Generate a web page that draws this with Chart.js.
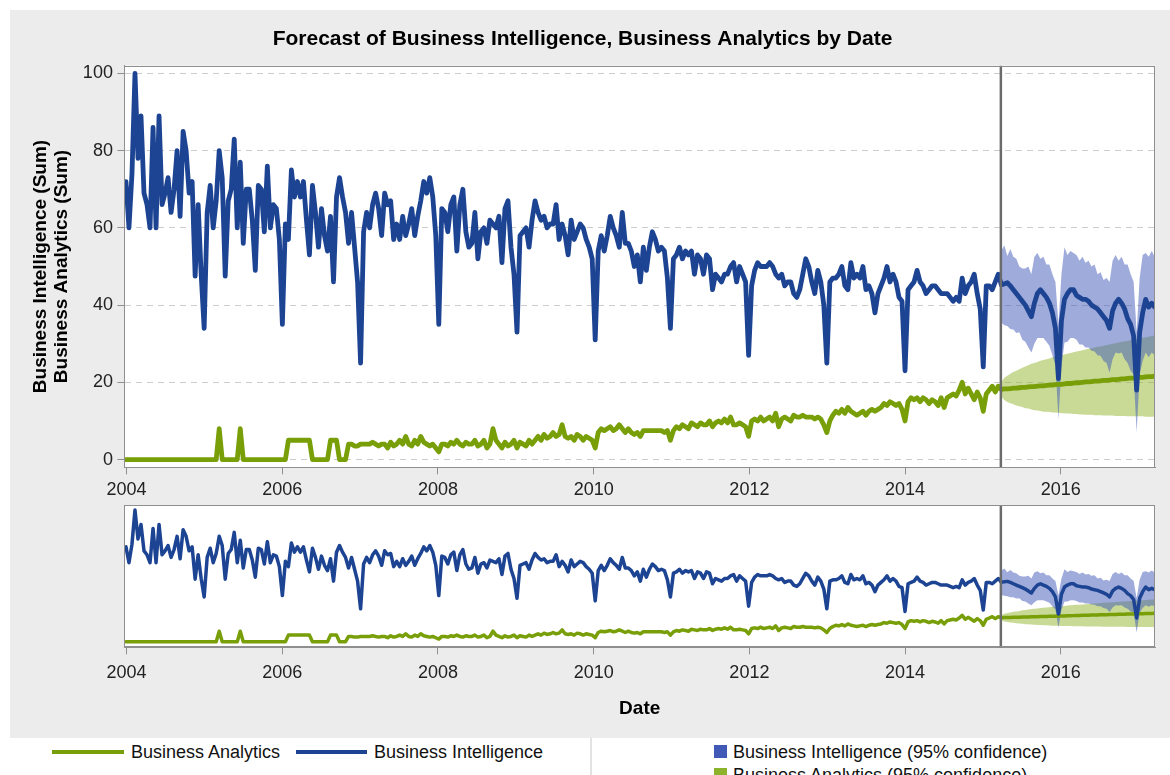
<!DOCTYPE html>
<html><head><meta charset="utf-8">
<script src="https://cdn.jsdelivr.net/npm/chart.js@4.4.1/dist/chart.umd.min.js"></script>
<style>
html,body{margin:0;padding:0;background:#fff;width:1170px;height:775px;overflow:hidden;font-family:"Liberation Sans",Arial,sans-serif;}
#panel{position:absolute;left:10px;top:10px;width:1160px;height:728px;background:#ececec;}
#w1{position:absolute;left:10px;top:10px;width:1160px;height:495px;}
#w2{position:absolute;left:10px;top:500px;width:1160px;height:238px;}
#legend{position:absolute;left:0;top:738px;width:1170px;height:37px;background:#fff;overflow:hidden;}
.ln{position:absolute;top:12px;height:4px;}
.lt{position:absolute;font-size:18px;line-height:20px;color:#111;white-space:nowrap;}
.sq{position:absolute;left:714px;width:13px;height:13px;}
.sep{position:absolute;left:590px;top:0;width:2px;height:37px;background:#e2e2e2;}
</style></head>
<body>
<div id="panel"></div>
<div id="w1"><canvas id="c1" width="1160" height="495"></canvas></div>
<div id="w2"><canvas id="c2" width="1160" height="238"></canvas></div>
<div id="legend">
  <div class="ln" id="lnBA" style="left:52px;width:72px;"></div>
  <div class="lt" id="ltBA" style="left:131px;top:4px;"></div>
  <div class="ln" id="lnBI" style="left:296px;width:71px;"></div>
  <div class="lt" id="ltBI" style="left:374px;top:4px;"></div>
  <div class="sep"></div>
  <div class="sq" id="sqBI" style="top:7px;"></div>
  <div class="lt" id="ltBIc" style="left:733px;top:4px;"></div>
  <div class="sq" id="sqBA" style="top:30px;"></div>
  <div class="lt" id="ltBAc" style="left:733px;top:27px;"></div>
</div>
<script>
// ---- series names / labels ----
const titleText = 'Forecast of Business Intelligence, Business Analytics by Date';
const yTitleLines = ['Business Intelligence (Sum)', 'Business Analytics (Sum)'];
const xTitleText = 'Date';
const nameBI = 'Business Intelligence';
const nameBA = 'Business Analytics';
const nameBIconf = 'Business Intelligence (95% confidence)';
const nameBAconf = 'Business Analytics (95% confidence)';

// ---- tick labels ----
const xTickYears = [2004, 2006, 2008, 2010, 2012, 2014, 2016];
const yTickValues = [0, 20, 40, 60, 80, 100];

// ---- date grid (approx. two-week samples, in decimal years) ----
const weekStart = 2003.992;
const weekStep = 0.038638;
const forecastStartIndex = 291;
const forecastStartYear = 2015.23;

// ---- history: Business Intelligence (i = 0..291) ----
const biHistory = [
72,60,74,100,78,89,69,66,60,86,
60,89,66,69,73,64,70,80,63,85,
80,69,72,47.5,66,48,34,64,71,60,
67,80,73,47.5,67,70,83,60,77,56,
70,70,62,49,71,70,59,76,60,66,
65,57,35,61,57,75,68,72,68,72,
62,53,71,64,55,65,58,54,63,46,
68,73,68,64,56,64,55,46,25,59,
64,60,66,69,65,58,69,66,67,57,
61,57,63,58,61,65,58,63,67,72,
69,73,68,58,35,65,64,59,66,68,
54,66,70,59,55,56,64,52,59,60,
56,62,61,60,63,51,65,67,55,48,
33,58,59,60,55,62,67,64,62,63,
60,61,61,66,57,61,58,53,62,57,
59,61,60,57,55,52,31,54,58,54,
58,63,60,58,55,64,56,56,54,50,
53,46,55,49,55,59,57,54,55,54,
47,34,52,53,55,52,54,53,54,48,
53,52,48,53,52,44,48,47,46,48,
48,50,51,46,50,48,46,27,45,49,
51,50,50,50,51,50,48,47,48,45,
46,46,43,42,44,48,52,50,46,43,
49,46,40,25,46,47,47,48,50,45,
44,51,47,48,47,50,44,45,43,38,
43,45,47,50,46,48,46,42,41,23,
44,45,46,49,46,45,43,44,45,45,
44,43,43,43,42,41,42,41,47,43,
45,46,48,43,39,24,45,45,44,46,
48,45.3];

// ---- history: Business Analytics (i = 0..291) ----
const baHistory = [
0,0,0,0,0,0,0,0,0,0,
0,0,0,0,0,0,0,0,0,0,
0,0,0,0,0,0,0,0,0,0,
0,8,0,0,0,0,0,0,8,0,
0,0,0,0,0,0,0,0,0,0,
0,0,0,0,5,5,5,5,5,5,
5,5,0,0,0,0,0,0,5,5,
5,0,0,0,4,4,3.5,3.5,4,4,
4,4,4.5,4,3.5,4,4,3,4.5,3.5,
4,5,4,6,4,3.5,5,4,6,4.5,
4,3.5,4,3,2,4,4,3.5,4.5,4,
5,4,3.5,4.5,4,4,5,3.5,4,5,
3,4,8,5,4,3,4.5,3.5,4,5,
3,4.5,4,3.5,5,4,5,6,5,6.5,
5.5,6,7,6,6.5,9,6,5.5,6,5,
6.5,6,5,6,5.5,5,3,7,8,7.5,
8,8.5,7.5,8,9,8,7,8,7,6.5,
7,6,7.5,7.5,7.5,7.5,7.5,7.5,7.5,7,
7.5,5,7.5,8.5,8,9,8.5,8,9.5,9,
8.5,9.5,9,9,10,8.5,9.5,10,9.5,10.5,
9.5,11,9,9,9.5,9,8.5,6,10,10.5,
10,11,10,10.5,11,10,12,8.5,10.5,11,
10.5,10,11.5,11,11,11.5,11,11,11,10.5,
11,10.5,9,7,10,11.5,12.5,12,13,12,
13.5,12.5,12,11.5,12,12.5,11.5,12.5,13,12.5,
13,13.5,14.5,14,15,14.5,14,14.5,13,10,
15,16,15.5,16,15,16,15.5,14.5,15.5,15,
14,16,13.5,16,16.5,17,16.5,18,20,17,
18.5,17,15.5,17.5,16,12.5,17,18,19,17.5,
19,18.2];

// ---- forecast (i = 291..342) ----
const biForecast = [45.3,45.5,45.8,45,44,43,42,41,40,38.5,37,40.5,43,44,43,42,40.5,38,34,21,36,41.5,43,44,44,42.5,42,41.5,41.5,41,40,39.5,39,38,37,36,34,38.5,40.5,41.5,40.5,39,36.5,35,32,18,33,38,41.5,39.5,40.5,39.5];
const biUpper = [54,55.5,52.7,54.5,52.5,52,50,49.5,49.5,50,48,52.5,53.5,52,52.5,50.5,50.5,48,46,35,48,55,53,54,53.5,53,51.5,52.5,51,51.5,50,50.5,48,48.5,46.5,47,46,51.5,53,51.5,52.5,50.5,50.5,48,46,33,47,53,53.5,52.5,54,52.5];
const biLower = [35.5,34.8,34.6,33.8,33.7,32.8,33,31,30.5,29,27.7,30,31.5,31.5,31.5,30.5,29.5,27,24.3,10.5,24,30.3,30.5,31.5,31.5,31,29.8,29.8,29,29,28.2,28,27,26.9,25.5,25,22.5,26,27.7,27.5,27.7,26,25,23,22,7,22,25.5,27.7,26.5,27.7,27];
const baForecast = [18.2,18.3,18.3,18.4,18.5,18.5,18.6,18.7,18.7,18.8,18.9,18.9,19.0,19.1,19.1,19.2,19.3,19.3,19.4,19.5,19.5,19.6,19.7,19.7,19.8,19.9,19.9,20.0,20.1,20.1,20.2,20.3,20.3,20.4,20.5,20.5,20.6,20.7,20.7,20.8,20.9,20.9,21.0,21.1,21.1,21.2,21.3,21.3,21.4,21.5,21.5,21.6];
const baUpper = [20.0,21.2,21.7,22.2,22.7,23.0,23.4,23.8,24.1,24.4,24.8,25.0,25.3,25.6,25.8,26.0,26.2,26.5,26.7,26.9,27.0,27.2,27.4,27.6,27.8,28.0,28.1,28.3,28.5,28.7,28.8,29.0,29.2,29.3,29.5,29.7,29.8,30.0,30.1,30.3,30.5,30.6,30.8,30.9,31.1,31.2,31.4,31.5,31.7,31.8,32.0,32.1];
const baLower = [16.4,15.4,14.9,14.6,14.3,14.0,13.8,13.6,13.3,13.2,13.0,12.8,12.7,12.6,12.4,12.4,12.3,12.2,12.2,12.1,12.0,12.0,11.9,11.9,11.8,11.8,11.7,11.7,11.6,11.6,11.6,11.5,11.5,11.5,11.4,11.4,11.4,11.4,11.3,11.3,11.3,11.3,11.2,11.2,11.2,11.2,11.2,11.2,11.1,11.1,11.1,11.1];

// ---- styling ----
const colBI = '#1d4493';
const colBA = '#789e08';
const colBIband = 'rgba(64,88,184,0.5)';
const colBAband = 'rgba(145,181,45,0.5)';
const FONT = "'Liberation Sans', Arial, sans-serif";
const xMin = 2003.972, xMax = 2017.21;

document.getElementById('lnBA').style.background = colBA;
document.getElementById('lnBI').style.background = colBI;
document.getElementById('sqBI').style.background = '#4159b6';
document.getElementById('sqBA').style.background = '#8db22b';
document.getElementById('ltBA').textContent = nameBA;
document.getElementById('ltBI').textContent = nameBI;
document.getElementById('ltBIc').textContent = nameBIconf;
document.getElementById('ltBAc').textContent = nameBAconf;

const toPts = (vals, i0) => vals.map((v, k) => ({x: weekStart + (i0 + k) * weekStep, y: v}));

function datasets(lw) {
  const line = (label, data, color, order) => ({label, data, borderColor: color, borderWidth: lw, pointRadius: 0, fill: false, tension: 0, borderJoinStyle: 'round', borderCapStyle: 'round', order});
  const band = (label, data, color, fill, order) => ({label, data, borderWidth: 0, borderColor: 'rgba(0,0,0,0)', backgroundColor: color, pointRadius: 0, fill, tension: 0, order});
  return [
    line(nameBI, toPts(biHistory, 0), colBI, 0),
    line(nameBI + ' forecast', toPts(biForecast, forecastStartIndex), colBI, 0),
    line(nameBA, toPts(baHistory, 0), colBA, 1),
    line(nameBA + ' forecast', toPts(baForecast, forecastStartIndex), colBA, 1),
    band(nameBIconf, toPts(biUpper, forecastStartIndex), colBIband, '+1', 2),
    band(nameBIconf + ' low', toPts(biLower, forecastStartIndex), colBIband, false, 2),
    band(nameBAconf, toPts(baUpper, forecastStartIndex), colBAband, '+1', 3),
    band(nameBAconf + ' low', toPts(baLower, forecastStartIndex), colBAband, false, 3)
  ];
}

const decor = {
  id: 'decor',
  beforeDraw(chart) {
    const {ctx, chartArea: a} = chart;
    ctx.save(); ctx.fillStyle = '#fff'; ctx.fillRect(a.left, a.top, a.width, a.height); ctx.restore();
  },
  afterDatasetsDraw(chart) {
    const {ctx, chartArea: a, scales: {x}} = chart;
    const px = x.getPixelForValue(forecastStartYear);
    ctx.save();
    ctx.strokeStyle = '#6b6b6b'; ctx.lineWidth = 2.5;
    ctx.beginPath(); ctx.moveTo(px, a.top); ctx.lineTo(px, a.bottom); ctx.stroke();
    ctx.strokeStyle = '#8f8f8f'; ctx.lineWidth = 1;
    ctx.strokeRect(Math.round(a.left) + 0.5, Math.round(a.top) + 0.5, Math.round(a.width) - 1, Math.round(a.height) - 1);
    ctx.restore();
  }
};

const tickFont = {family: FONT, size: 18};
const xTicksCb = s => { s.ticks = xTickYears.map(v => ({value: v})); };

new Chart(document.getElementById('c1'), {
  type: 'line',
  data: {datasets: datasets(4.8)},
  options: {
    responsive: false, animation: false,
    layout: {padding: {left: 0, right: 15, top: 0, bottom: 0}},
    plugins: {
      legend: {display: false}, tooltip: {enabled: false},
      title: {display: true, text: titleText, color: '#000', font: {family: FONT, size: 21, weight: 'bold'}, padding: {top: 16.4, bottom: 14.1}}
    },
    scales: {
      x: {type: 'linear', min: xMin, max: xMax,
        afterBuildTicks: xTicksCb,
        afterFit: s => { s.height = 37.7; },
        ticks: {callback: v => String(v), font: tickFont, color: '#222', padding: 5.2, maxRotation: 0, autoSkip: false},
        grid: {drawOnChartArea: false, drawTicks: true, tickLength: 7, color: '#8f8f8f', tickColor: '#8f8f8f'},
        border: {display: true, color: '#8f8f8f', width: 1}},
      y: {type: 'linear', min: -2, max: 102,
        afterBuildTicks: s => { s.ticks = yTickValues.map(v => ({value: v})); },
        afterFit: s => { s.width = 114.4; },
        ticks: {font: tickFont, color: '#222', padding: 4.5},
        grid: {color: '#cccccc', tickColor: '#8f8f8f', tickLength: 7, lineWidth: 1},
        border: {display: true, color: '#8f8f8f', width: 1, dash: [6, 5]},
        title: {display: true, text: yTitleLines, color: '#000', font: {family: FONT, size: 19, weight: 'bold', lineHeight: 1.12}, padding: {top: 20, bottom: 0}}}
    }
  },
  plugins: [decor]
});

new Chart(document.getElementById('c2'), {
  type: 'line',
  data: {datasets: datasets(3.5)},
  options: {
    responsive: false, animation: false,
    layout: {padding: {left: 0, right: 15, top: 5, bottom: 0}},
    plugins: {legend: {display: false}, tooltip: {enabled: false}},
    scales: {
      x: {type: 'linear', min: xMin, max: xMax,
        afterBuildTicks: xTicksCb,
        afterFit: s => { s.height = 90.7; },
        ticks: {callback: v => String(v), font: tickFont, color: '#222', padding: 8.2, maxRotation: 0, autoSkip: false},
        grid: {drawOnChartArea: false, drawTicks: true, tickLength: 7, color: '#8f8f8f', tickColor: '#8f8f8f'},
        border: {display: true, color: '#8f8f8f', width: 1},
        title: {display: true, text: xTitleText, color: '#000', font: {family: FONT, size: 19, weight: 'bold'}, padding: {top: 0, bottom: 17.6}}},
      y: {type: 'linear', min: -4.25, max: 103.8,
        afterFit: s => { s.width = 114.4; },
        ticks: {display: false},
        grid: {display: false},
        border: {display: true, color: '#8f8f8f', width: 1}}
    }
  },
  plugins: [decor]
});
</script>
</body></html>
